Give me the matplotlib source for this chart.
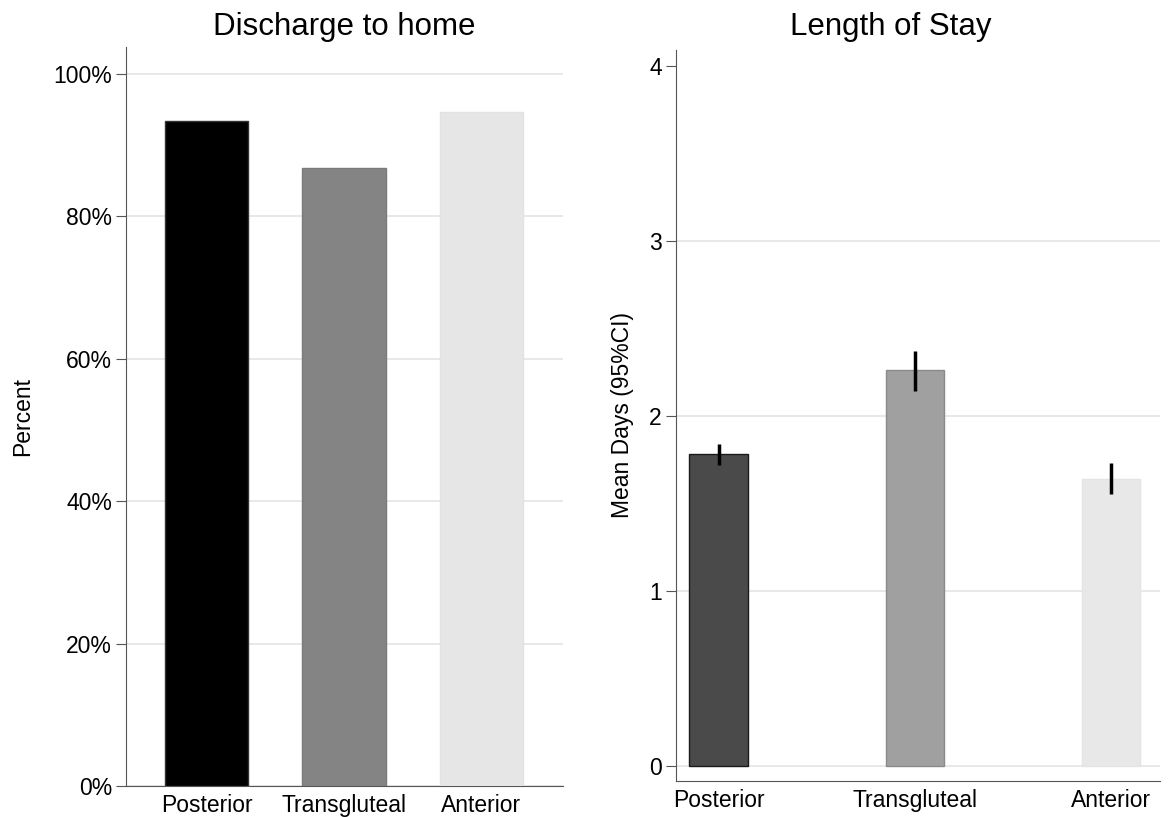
import matplotlib
matplotlib.use("Agg")
import matplotlib.pyplot as plt
import numpy as np

plt.rcParams['font.family'] = ['Liberation Sans', 'DejaVu Sans']

categories = ["Posterior", "Transgluteal", "Anterior"]
discharge_pct = [93.4, 86.8, 94.6]
los_mean = [1.78, 2.26, 1.64]
los_ci_low = [1.72, 2.14, 1.55]
los_ci_high = [1.84, 2.37, 1.73]

left_colors = ["#000000", "#848484", "#e6e6e6"]
left_edges = ["#333333", "#7a7a7a", "#e2e2e2"]
right_colors = ["#4a4a4a", "#a0a0a0", "#e8e8e8"]
right_edges = ["#1a1a1a", "#8a8a8a", "#e4e4e4"]

W, H = 1170, 817
fig = plt.figure(figsize=(11.7, 8.17), dpi=100)
ax1 = fig.add_axes([0.1077, 0.0379, 0.3735, 0.9046])
ax2 = fig.add_axes([0.5775, 0.0444, 0.414, 0.8944])

spine_col = "#555555"
grid_col = "#e6e6e6"
fs = 16.5

# Left chart
x = np.arange(len(categories))
ax1.bar(x, discharge_pct, width=0.61, color=left_colors, edgecolor=left_edges, linewidth=1, zorder=3)
ax1.set_xlim(-0.585, 2.593)
ax1.set_ylim(0, 103.8)
ax1.set_yticks([0, 20, 40, 60, 80, 100])
ax1.set_yticklabels(["0%", "20%", "40%", "60%", "80%", "100%"])
ax1.yaxis.grid(True, color=grid_col, linewidth=1.3, zorder=0)
ax1.set_axisbelow(True)
ax1.set_xticks(x)
ax1.set_xticklabels(categories)
ax1.set_ylabel("Percent", fontsize=fs)
ax1.yaxis.set_label_coords((34 - 126) / 437, 0.5)

# Right chart
ax2.bar(x, los_mean, width=0.30, color=right_colors, edgecolor=right_edges, linewidth=1, zorder=3)
err_low = [m - l for m, l in zip(los_mean, los_ci_low)]
err_high = [h - m for m, h in zip(los_mean, los_ci_high)]
ax2.errorbar(x, los_mean, yerr=[err_low, err_high], fmt="none", ecolor="black", elinewidth=2.5, capsize=0, zorder=4)
ax2.set_xlim(-0.22, 2.25)
ax2.set_ylim(-0.086, 4.09)
ax2.set_yticks([0, 1, 2, 3, 4])
ax2.yaxis.grid(True, color=grid_col, linewidth=1.3, zorder=0)
ax2.set_axisbelow(True)
ax2.set_xticks(x)
ax2.set_xticklabels(categories)
ax2.set_ylabel("Mean Days (95%CI)", fontsize=fs)
ax2.yaxis.set_label_coords((634 - 675.7) / 484.3, 0.5)

fig.text(344 / W, 1 - 27 / H, "Discharge to home", fontsize=22.5, ha="center", va="center")
fig.text(891 / W, 1 - 27 / H, "Length of Stay", fontsize=22.5, ha="center", va="center")

for ax in (ax1, ax2):
    ax.spines["top"].set_visible(False)
    ax.spines["right"].set_visible(False)
    ax.spines["left"].set_color(spine_col)
    ax.spines["bottom"].set_color(spine_col)
    ax.tick_params(axis="y", length=7, color=spine_col, labelsize=fs, pad=3)
    ax.tick_params(axis="x", length=0, labelsize=fs, pad=6)

ax2.get_ygridlines()[-1].set_visible(False)

fig.savefig("out.png", dpi=100)
